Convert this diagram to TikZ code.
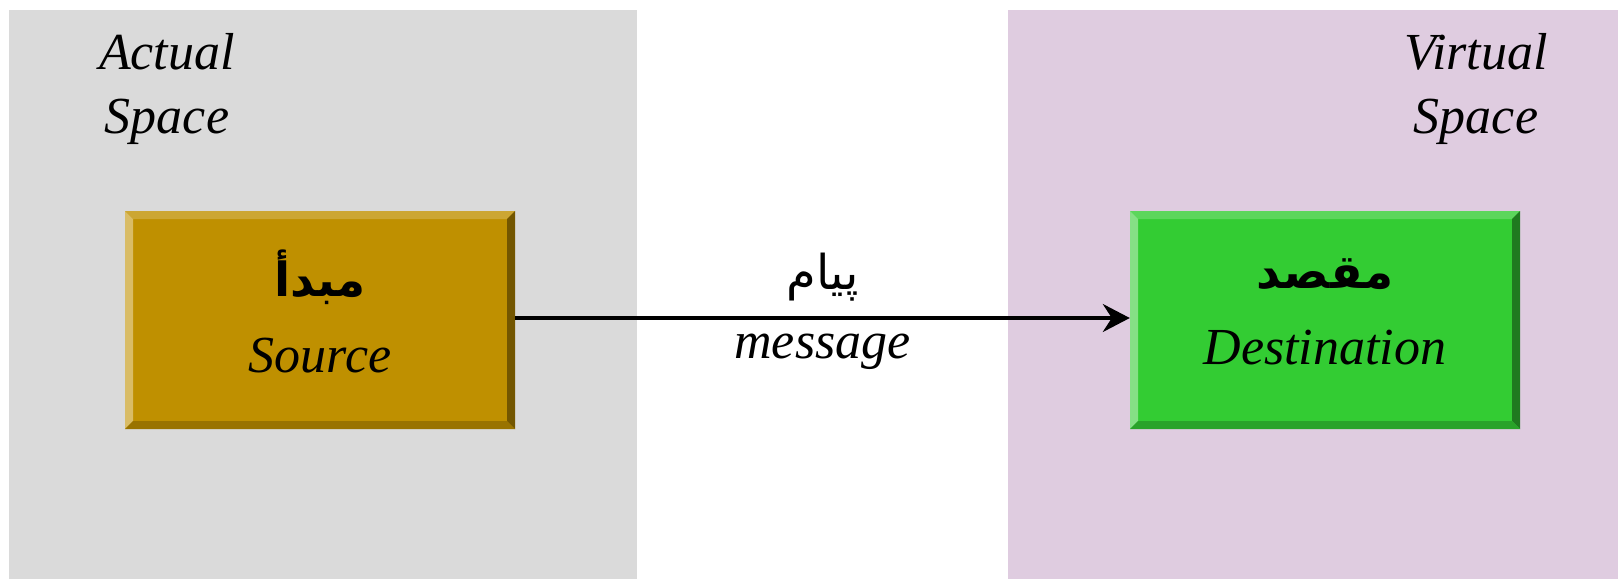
\documentclass[tikz,border=0pt]{standalone}
\usepackage{fontspec}
\setmainfont{Liberation Serif}
\newfontfamily\arabicfont[Script=Arabic]{DejaVu Sans}
\TeXXeTstate=1
\usetikzlibrary{arrows.meta}
\definecolor{panelgray}{HTML}{DADADA}
\definecolor{panelpurple}{HTML}{DFCCE0}
\definecolor{srcfill}{HTML}{BF9000}
\definecolor{srctop}{HTML}{CCA633}
\definecolor{srcleft}{HTML}{D9BC66}
\definecolor{srcright}{HTML}{735600}
\definecolor{srcbottom}{HTML}{997300}
\definecolor{dstfill}{HTML}{33CC33}
\definecolor{dsttop}{HTML}{5CD65C}
\definecolor{dstleft}{HTML}{85E085}
\definecolor{dstright}{HTML}{1F7A1F}
\definecolor{dstbottom}{HTML}{29A329}
\newcommand\mybevel[4]{%
  \fill[#1] (path picture bounding box.north west) -- (path picture bounding box.north east) -- ++(-8,8) -| ([shift={(8,8)}]path picture bounding box.north west) -- cycle;
  \fill[#2] (path picture bounding box.north west) -- ([shift={(8,8)}]path picture bounding box.north west) |- ([shift={(8,-8)}]path picture bounding box.south west) -- (path picture bounding box.south west) -- cycle;
  \fill[#3] (path picture bounding box.north east) -- ([shift={(-8,8)}]path picture bounding box.north east) |- ([shift={(-8,-8)}]path picture bounding box.south east) -- (path picture bounding box.south east) -- cycle;
  \fill[#4] (path picture bounding box.south west) -- ([shift={(8,-8)}]path picture bounding box.south west) -| ([shift={(-8,-8)}]path picture bounding box.south east) -- (path picture bounding box.south east) -- cycle;
}
\tikzset{
  boxstyle/.style={minimum width=390pt, minimum height=218pt, inner sep=0pt, align=center,
    text depth=17pt, font=\fontsize{52}{76}\selectfont},
  srcbox/.style={boxstyle, fill=srcfill, path picture={\mybevel{srctop}{srcleft}{srcright}{srcbottom}}},
  dstbox/.style={boxstyle, fill=dstfill, path picture={\mybevel{dsttop}{dstleft}{dstright}{dstbottom}}},
  latin/.style={font=\fontsize{52}{64}\selectfont\itshape},
  arab/.style={font=\fontsize{48}{56}\selectfont\arabicfont},
  spacelabel/.style={font=\fontsize{52}{64}\selectfont\itshape, align=center, inner sep=0pt},
  msgarrow/.style={line width=3.5pt, -{Stealth[length=27pt, width=28pt, inset=9pt]}},
}
\newcommand\boxtext[2]{{\fontsize{47}{50}\selectfont\arabicfont\bfseries\beginR #1\endR}\\{\itshape #2}}
\begin{document}
\begin{tikzpicture}[x=1pt, y=-1pt]
  \useasboundingbox (0,0) rectangle (1618,579);
  \fill[white] (0,0) rectangle (1618,579);
  \fill[panelgray] (9,10) rectangle (637,579);
  \fill[panelpurple] (1008,10) rectangle (1618,579);
  \node[spacelabel] (actual) at (167,89) {Actual\\Space};
  \node[spacelabel] (virtual) at (1476,89) {Virtual\\Space};
  \node[srcbox] (src) at (320,320) {\boxtext{مبدأ}{Source}};
  \node[dstbox] (dst) at (1325,320) {\boxtext{مقصد}{Destination}};
  \draw[msgarrow] ([yshift=2pt]src.east) -- ([yshift=2pt]dst.west)
    node[midway, above=12pt, arab] (msgar) {\beginR پیام\endR}
    node[midway, below=11pt, latin] (msgen) {message};
\end{tikzpicture}
\end{document}
